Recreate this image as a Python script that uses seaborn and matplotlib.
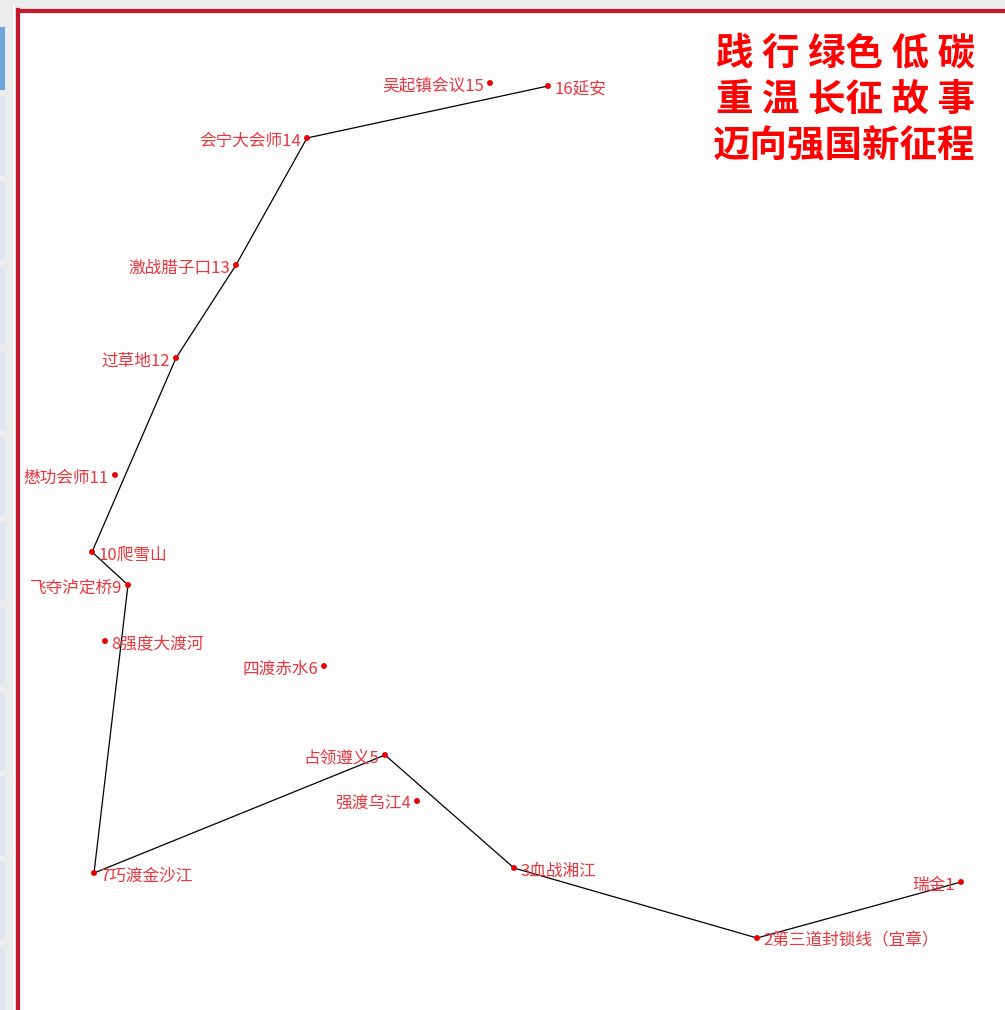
import matplotlib
matplotlib.use("Agg")
import matplotlib.pyplot as plt
import matplotlib.patches as mpatches
import seaborn as sns
import pandas as pd

# ---- data (screen-style coordinates, y grows downward) ----
stop_ids = list(range(1, 17))
labels = ["瑞金1", "2第三道封锁线（宜章）", "3血战湘江", "强渡乌江4", "占领遵义5",
          "四渡赤水6", "7巧渡金沙江", "8强度大渡河", "飞夺泸定桥9", "10爬雪山",
          "懋功会师11", "过草地12", "激战腊子口13", "会宁大会师14", "吴起镇会议15", "16延安"]
x_vals = [961, 757, 514, 417, 385, 324, 94, 105, 128, 92, 115, 176, 236, 307, 490, 548]
y_vals = [882, 938, 868, 801, 755, 666, 873, 641, 585, 552, 475, 358, 265, 138, 83, 86]
label_side = ["left", "right", "right", "left", "left", "left", "right", "right",
              "left", "right", "left", "left", "left", "left", "left", "right"]
route = [1, 2, 3, 5, 7, 9, 10, 12, 13, 14, 16]
slogan = ["践 行 绿色 低 碳", "重 温 长征 故 事", "迈向强国新征程"]

df = pd.DataFrame({"id": stop_ids, "label": labels, "x": x_vals, "y": y_vals, "side": label_side})
route_df = df.set_index("id").loc[route].reset_index()
route_df["order"] = range(len(route_df))

sns.set_theme(style="white")
plt.rcParams["font.family"] = ["Noto Sans CJK SC", "DejaVu Sans"]

W, H = 1005, 1010
fig = plt.figure(figsize=(W / 100, H / 100), dpi=100, facecolor="#ececec")

# screenshot side strip decorations
fig.patches.append(mpatches.Rectangle((13 / W, 0), 2 / W, (H - 5) / H, transform=fig.transFigure,
                                      facecolor="white", edgecolor="none", zorder=0))
fig.patches.append(mpatches.Rectangle((0, 1 - 90 / H), 5 / W, 63 / H, transform=fig.transFigure,
                                      facecolor="#6ea6dc", edgecolor="none", zorder=0))
for top, bot in [(95, 175), (180, 260), (265, 345), (350, 430), (435, 515), (520, 600),
                 (605, 685), (690, 770), (775, 855), (860, 940), (945, 1010)]:
    fig.patches.append(mpatches.Rectangle((0, 1 - bot / H), 5 / W, (bot - top - 2) / H,
                                          transform=fig.transFigure,
                                          facecolor="#dde6f1", edgecolor="none", zorder=0))

left_px, top_px = 18, 10.5
ax = fig.add_axes([left_px / W, 0, (W - left_px) / W, (H - top_px) / H])
ax.set_facecolor("#fdfdfe")
ax.set_xlim(left_px, W)
ax.set_ylim(H, top_px)

sns.lineplot(data=route_df, x="x", y="y", sort=False, estimator=None, color="black",
             linewidth=0.9, ax=ax, zorder=2)
sns.scatterplot(data=df, x="x", y="y", color="#e60000", s=18, edgecolor="none", ax=ax, zorder=3)

for _, r in df.iterrows():
    if r["side"] == "left":
        ax.text(r["x"] - 6, r["y"] + 3, r["label"], ha="right", va="center",
                fontsize=12, color="#e8383d", zorder=4)
    else:
        ax.text(r["x"] + 6, r["y"] + 3, r["label"], ha="left", va="center",
                fontsize=12, color="#e8383d", zorder=4)

for i, line in enumerate(slogan):
    ax.text(975, 53 + i * 46.5, line, ha="right", va="center", fontsize=27,
            fontweight="bold", color="#ff0000", zorder=4)

ax.set_xlabel("")
ax.set_ylabel("")
ax.set_xticks([])
ax.set_yticks([])
for s in ["right", "bottom"]:
    ax.spines[s].set_visible(False)
for s in ["left", "top"]:
    ax.spines[s].set_visible(True)
    ax.spines[s].set_color("#c41a2c")
    ax.spines[s].set_linewidth(3)

fig.savefig("out.png", dpi=100, facecolor=fig.get_facecolor())
